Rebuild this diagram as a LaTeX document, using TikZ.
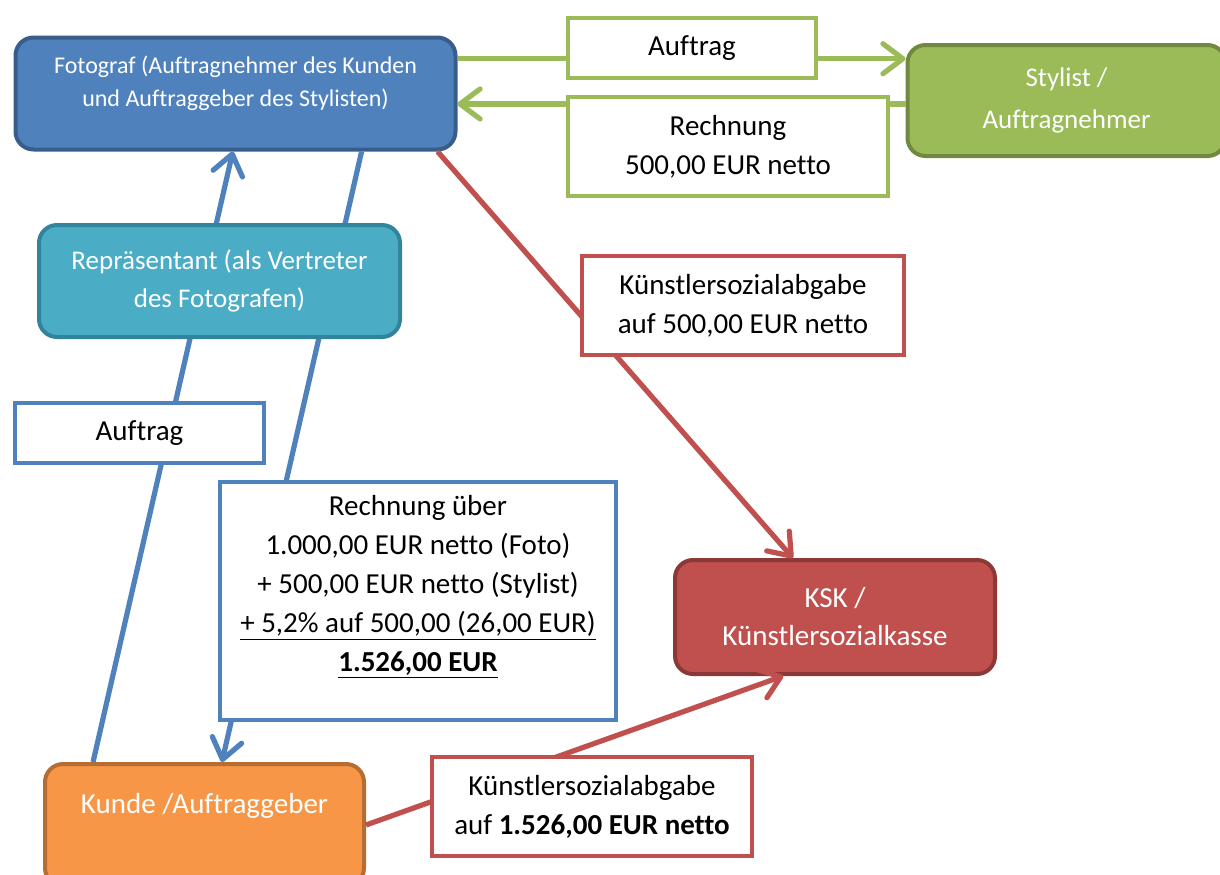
\documentclass[tikz,border=0pt]{standalone}
\usepackage{fontspec}
\setmainfont{Carlito}[Ligatures=NoCommon]
\usetikzlibrary{shapes,arrows,arrows.meta,calc,positioning}

\definecolor{fotblau}{HTML}{4F81BD}
\definecolor{fotrand}{HTML}{385D8A}
\definecolor{repblau}{HTML}{4BACC6}
\definecolor{reprand}{HTML}{31849B}
\definecolor{stygruen}{HTML}{9BBB59}
\definecolor{styrand}{HTML}{71893F}
\definecolor{kunorange}{HTML}{F79646}
\definecolor{kunrand}{HTML}{B66D31}
\definecolor{kskrot}{HTML}{C0504D}
\definecolor{kskrand}{HTML}{8C3836}

\begin{document}
\begin{tikzpicture}[x=0.5pt,y=-0.5pt,
box/.style={draw,rounded corners=9pt,line width=2pt,align=center,text=white,font=\fontsize{14.5}{19}\selectfont},
lab/.style={draw,fill=white,line width=2pt,align=center,font=\fontsize{14.5}{19.5}\selectfont},
pfeil/.style={line width=2.6pt,-{Straight Barb[length=10pt,width=15pt,round]}},
linie/.style={line width=2.6pt}]

% Rahmen
\clip (0,0) rectangle (1220,874);

% Beteiligte
\node[box,fill=fotblau,draw=fotrand,minimum width=220pt,minimum height=56pt,font=\fontsize{12}{16.5}\selectfont,text depth=12pt] (fot) at (235.5,93.5) {Fotograf (Auftragnehmer des Kunden\\und Auftraggeber des Stylisten)};
\node[box,fill=stygruen,draw=styrand,minimum width=159pt,minimum height=55.5pt,font=\fontsize{13.5}{21}\selectfont] (sty) at (1066.5,100.5) {Stylist /\\Auftragnehmer};
\node[box,fill=kunorange,draw=kunrand,minimum width=159.5pt,minimum height=61pt,text depth=22pt] (kun) at (204.5,825) {Kunde /Auftraggeber};
\node[box,fill=kskrot,draw=kskrand,minimum width=160pt,minimum height=57pt] (ksk) at (835,617) {KSK /\\Künstlersozialkasse};

% Verbindungen
\draw[pfeil,stygruen] ($(fot.north east)!0.2!(fot.south east)$) coordinate (g1) -- (g1 -| sty.west);
\draw[pfeil,stygruen] ($(sty.north west)!0.53!(sty.south west)$) coordinate (g2) -- (g2 -| fot.east);
\draw[pfeil,fotblau] ($(kun.north west)!0.155!(kun.north east)$) -- ($(fot.south west)!0.494!(fot.south east)$);
\draw[pfeil,fotblau] ($(fot.south west)!0.784!(fot.south east)$) -- ($(kun.north west)!0.554!(kun.north east)$);
\draw[pfeil,kskrot] ($(fot.south west)!0.955!(fot.south east)$) -- ($(ksk.north west)!0.37!(ksk.north east)$);
\draw[pfeil,kskrot] (kun.east) -- ($(ksk.south west)!0.34!(ksk.south east)$);

% Repräsentant liegt über den Pfeilen
\node[box,fill=repblau,draw=reprand,minimum width=180.5pt,minimum height=56pt,font=\fontsize{13.5}{19}\selectfont] (rep) at (219.5,281) {Repräsentant (als Vertreter\\des Fotografen)};

% Beschriftungen
\node[lab,draw=stygruen,minimum width=124pt,minimum height=30pt] (a1) at (692,48) {Auftrag};
\node[lab,draw=stygruen,minimum width=160pt,minimum height=49.5pt] (r1) at (728,146.5) {Rechnung\\500,00 EUR netto};
\node[lab,draw=kskrot,minimum width=161pt,minimum height=49.5pt] (k1) at (743,305.5) {Künstlersozialabgabe\\auf 500,00 EUR netto};
\node[lab,draw=fotblau,minimum width=124.5pt,minimum height=30pt] (a2) at (139.5,433) {Auftrag};
\node[lab,draw=fotblau,minimum width=198pt,minimum height=119pt,text depth=18pt] (r2) at (418,601) {Rechnung über\\1.000,00 EUR netto (Foto)\\+ 500,00 EUR netto (Stylist)\\\underline{+ 5,2\% auf 500,00 (26,00 EUR)}\\\underline{\textbf{1.526,00 EUR}}};
\node[lab,draw=kskrot,minimum width=160pt,minimum height=49.5pt] (k2) at (592,806.5) {Künstlersozialabgabe\\auf \textbf{1.526,00 EUR netto}};

\end{tikzpicture}
\end{document}
